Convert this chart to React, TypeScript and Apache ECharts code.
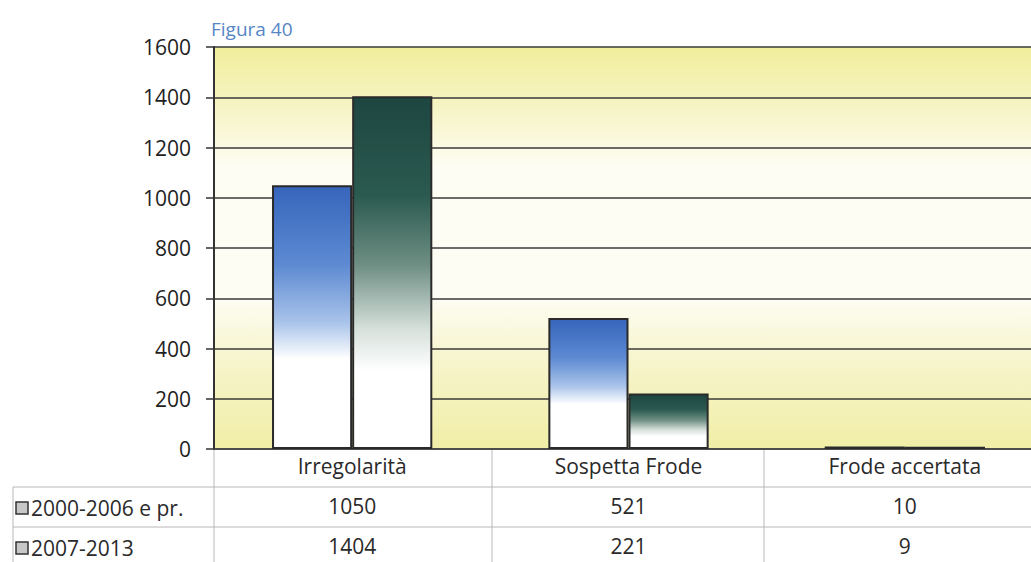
import React, { useEffect, useRef } from "react";
import * as echarts from "echarts";

const categories = ["Irregolarità", "Sospetta Frode", "Frode accertata"];
const seriesNames = ["2000-2006 e pr.", "2007-2013"];
const values2000 = [1050, 521, 10];
const values2007 = [1404, 221, 9];
const yTicks = [0, 200, 400, 600, 800, 1000, 1200, 1400, 1600];

const FONT = "'Open Sans', Lato, sans-serif";
const TXT = 21;

export default function App() {
  const ref = useRef<HTMLDivElement>(null);
  useEffect(() => {
    if (!ref.current) return;
    const chart = echarts.init(ref.current, null, { renderer: "svg" });
    const grad = (stops: [number, string][]) =>
      new echarts.graphic.LinearGradient(0, 0, 0, 1, stops.map(([offset, color]) => ({ offset, color })));
    const tableLine = { stroke: "#b8b8b8", lineWidth: 1 };
    const rowAxis = (offset: number, vals: number[]) => ({
      type: "category",
      data: categories,
      position: "bottom",
      offset,
      axisLine: { show: false },
      axisTick: { show: false },
      axisLabel: {
        margin: 6,
        fontSize: TXT,
        color: "#2a2a2a",
        fontFamily: FONT,
        interval: 0,
        formatter: (_v: string, i: number) => String(vals[i]),
      },
    });
    const option: any = {
      animation: false,
      backgroundColor: "#ffffff",
      textStyle: { fontFamily: FONT },
      title: {
        text: "Figura 40",
        left: 206,
        top: 14,
        textStyle: { color: "#5686c6", fontSize: 19, fontWeight: "normal", fontFamily: FONT },
      },
      grid: {
        left: 214,
        top: 47,
        right: 0,
        bottom: 113,
        show: true,
        borderWidth: 0,
        backgroundColor: grad([
          [0, "#f1ee9c"],
          [0.15, "#f6f4c4"],
          [0.3, "#fdfdf4"],
          [0.62, "#fdfdf4"],
          [0.78, "#f7f5cc"],
          [1, "#f1eea6"],
        ]),
      },
      xAxis: [
        {
          type: "category",
          data: categories,
          position: "bottom",
          axisLine: { show: true, lineStyle: { color: "#444", width: 1.5 } },
          axisTick: { show: false },
          axisLabel: { margin: 6, fontSize: TXT, color: "#2a2a2a", fontFamily: FONT, interval: 0 },
        },
        rowAxis(40, values2000),
        rowAxis(80, values2007),
      ],
      yAxis: {
        type: "value",
        min: yTicks[0],
        max: yTicks[yTicks.length - 1],
        interval: 200,
        axisLine: { show: true, lineStyle: { color: "#333", width: 2 } },
        axisTick: { show: true, length: 8, lineStyle: { color: "#333", width: 1.5 } },
        axisLabel: {
          fontSize: 21,
          color: "#1e1e1e",
          margin: 23,
          fontFamily: FONT,
          formatter: (v: number) => String(v),
        },
        splitLine: { show: true, lineStyle: { color: "#3a3a3a", width: 1.6 } },
      },
      series: [
        {
          name: seriesNames[0],
          type: "bar",
          data: values2000,
          barGap: "0%",
          barCategoryGap: "42%",
          itemStyle: {
            borderColor: "#2a2a2a",
            borderWidth: 2,
            color: grad([
              [0, "#3665bb"],
              [0.3, "#5d8ad2"],
              [0.52, "#a9c3ea"],
              [0.66, "#ffffff"],
              [1, "#ffffff"],
            ]),
          },
        },
        {
          name: seriesNames[1],
          type: "bar",
          data: values2007,
          itemStyle: {
            borderColor: "#2a2a2a",
            borderWidth: 2,
            color: grad([
              [0, "#1d4640"],
              [0.28, "#2b5a50"],
              [0.48, "#6f8f84"],
              [0.66, "#d6e0db"],
              [0.78, "#ffffff"],
              [1, "#ffffff"],
            ]),
          },
        },
      ],
      graphic: [
        { type: "line", shape: { x1: 13, y1: 487, x2: 1043, y2: 487 }, style: tableLine },
        { type: "line", shape: { x1: 13, y1: 527, x2: 1043, y2: 527 }, style: tableLine },
        { type: "line", shape: { x1: 13, y1: 487, x2: 13, y2: 562 }, style: tableLine },
        { type: "line", shape: { x1: 214, y1: 450, x2: 214, y2: 562 }, style: tableLine },
        { type: "line", shape: { x1: 492, y1: 450, x2: 492, y2: 562 }, style: tableLine },
        { type: "line", shape: { x1: 764, y1: 450, x2: 764, y2: 562 }, style: tableLine },
        ...seriesNames.flatMap((name, i) => {
          const cy = 508 + i * 40;
          return [
            {
              type: "rect",
              shape: { x: 16, y: cy - 6, width: 12, height: 12 },
              style: { fill: "#c8c8c8", stroke: "#333", lineWidth: 1.5 },
            },
            {
              type: "text",
              x: 31,
              y: cy,
              style: {
                text: name,
                fill: "#2a2a2a",
                fontSize: TXT,
                fontFamily: FONT,
                verticalAlign: "middle",
              },
            },
          ];
        }),
      ],
    };
    chart.setOption(option);
    return () => chart.dispose();
  }, []);
  return (
    <div style={{ position: "fixed", left: 0, top: 0, width: 1031, height: 562, overflow: "hidden", background: "#fff" }}>
      <div ref={ref} style={{ width: 1043, height: 562 }} />
    </div>
  );
}
